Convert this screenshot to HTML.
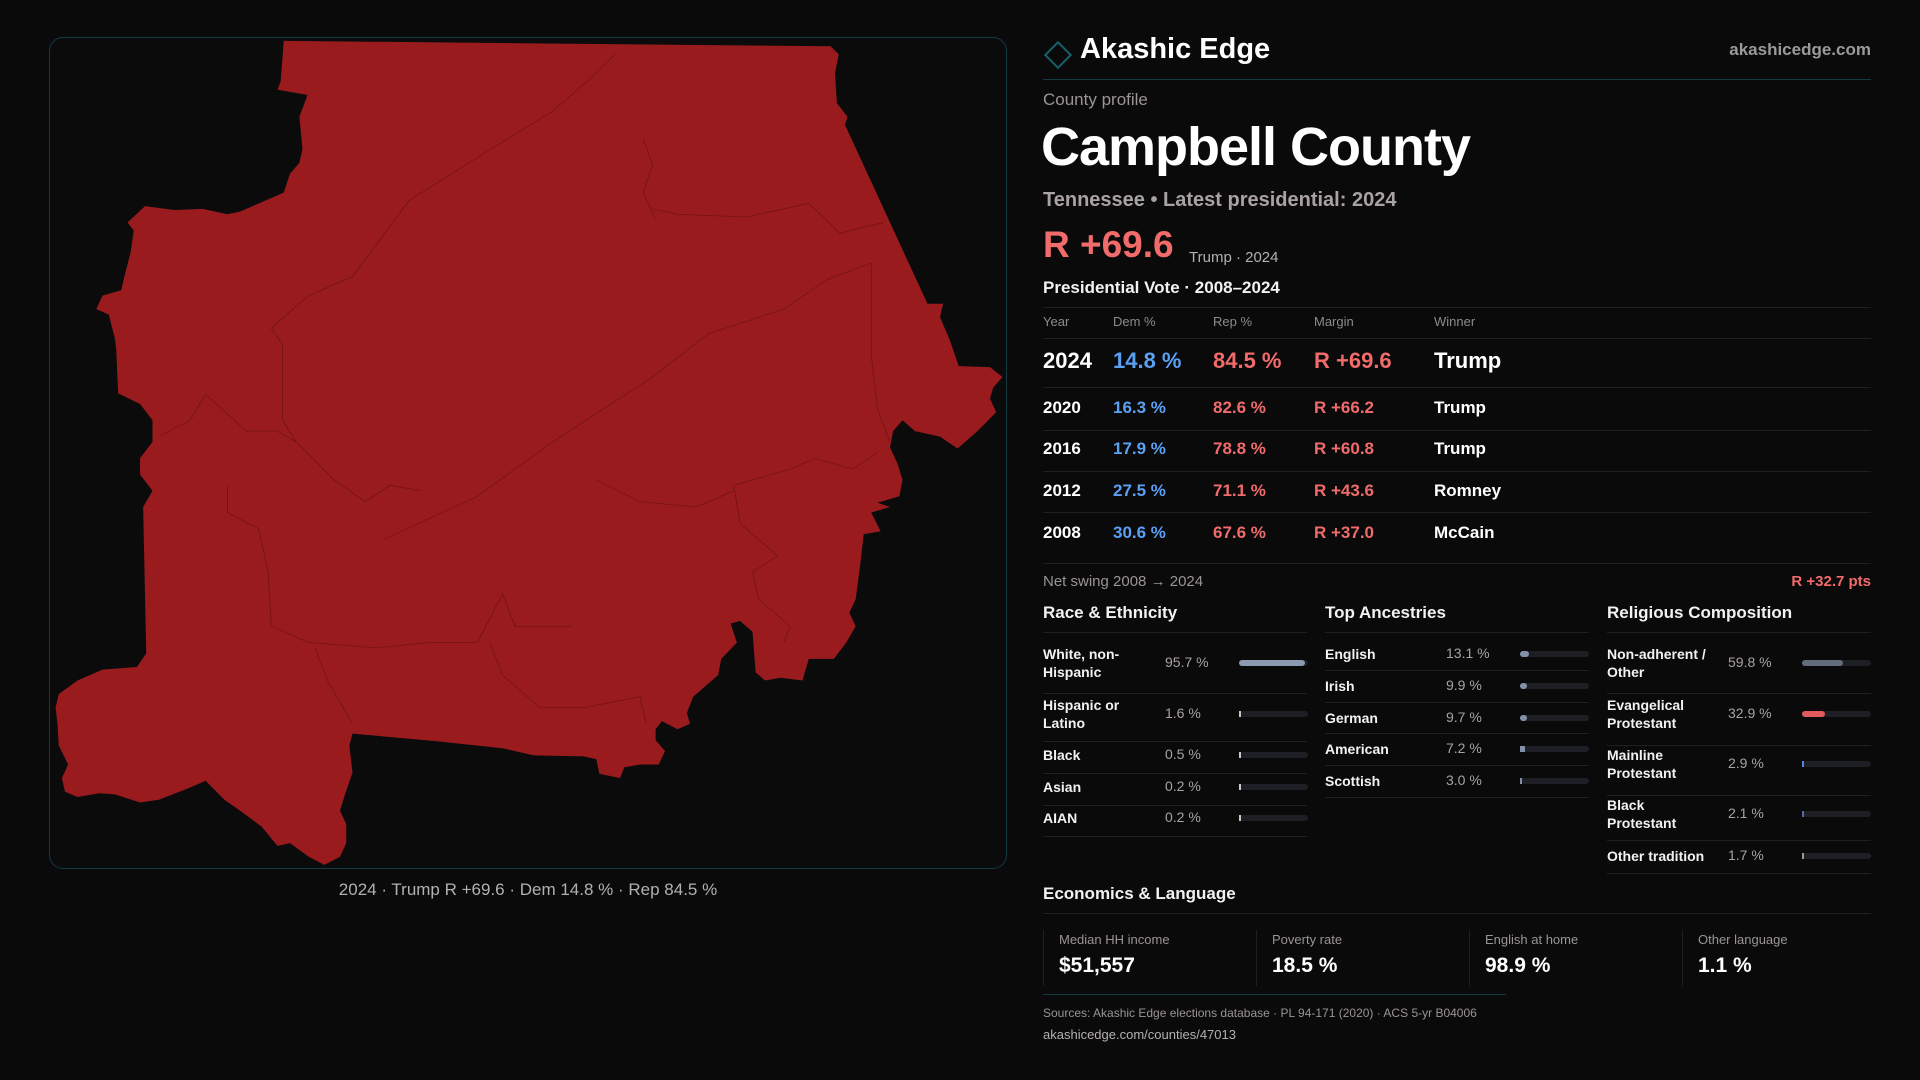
<!DOCTYPE html>
<html><head><meta charset="utf-8">
<style>
*{margin:0;padding:0;box-sizing:border-box}
body{width:1920px;height:1080px;background:#0a0a0b;font-family:"Liberation Sans",sans-serif;color:#f2f2f2;position:relative;overflow:hidden}
.a{position:absolute;white-space:nowrap}
.g{color:#9a9494}
.red{color:#f26b6b}.blue{color:#5aa0f5}
.hl{position:absolute;height:1px;background:#1e1f22}
.track{position:absolute;height:6px;border-radius:3px;background:#1d1f24}
.fill{position:absolute;left:0;top:0;height:6px;border-radius:3px}
</style></head><body>
<div class="a" style="left:49px;top:37px;width:958px;height:832px;border:1px solid #143a42;border-radius:14px;background:#0b0b0c"></div>
<svg style="position:absolute;left:40px;top:30px" width="980" height="850" viewBox="0 0 1568 1568" preserveAspectRatio="none">
<path fill="#991b1e" d="M390,20 L1265,30 L1278,45 L1272,80 L1275,135 L1292,160 L1288,175 L1350,330 L1420,505 L1445,505 L1440,530 L1455,570 L1470,620 L1520,622 L1540,640 L1525,660 L1520,680 L1530,705 L1500,740 L1468,772 L1440,750 L1400,740 L1380,720 L1365,740 L1360,770 L1372,800 L1380,830 L1375,860 L1340,872 L1360,880 L1330,890 L1345,925 L1318,930 L1312,990 L1305,1050 L1295,1075 L1305,1100 L1290,1130 L1270,1160 L1230,1160 L1220,1200 L1185,1195 L1160,1200 L1145,1185 L1140,1110 L1120,1090 L1105,1095 L1115,1130 L1090,1160 L1085,1190 L1045,1230 L1035,1260 L1040,1280 L1020,1290 L995,1275 L985,1290 L985,1310 L1000,1330 L990,1355 L960,1355 L935,1360 L928,1380 L895,1372 L890,1345 L870,1340 L790,1338 L740,1325 L635,1312 L500,1298 L495,1320 L500,1370 L488,1410 L480,1440 L490,1465 L490,1500 L480,1525 L455,1540 L430,1525 L400,1500 L380,1505 L355,1470 L320,1440 L295,1420 L265,1385 L235,1400 L190,1420 L160,1425 L120,1410 L95,1408 L60,1415 L40,1405 L35,1380 L45,1355 L30,1320 L28,1280 L25,1250 L30,1225 L60,1200 L100,1180 L155,1175 L170,1150 L165,880 L180,850 L160,820 L160,790 L180,760 L180,720 L160,690 L125,670 L122,590 L120,570 L110,525 L90,515 L100,490 L130,480 L135,455 L145,410 L150,370 L140,355 L168,325 L215,332 L260,330 L300,340 L320,335 L360,315 L390,300 L400,265 L415,245 L420,220 L415,160 L428,120 L380,110 L385,95 Z"/>
<g fill="none" stroke="#6e1215" stroke-width="1.5" opacity="0.8">
<path d="M370,550 L430,490 L500,455 L590,315 L700,235 L820,150 L880,90 L920,45"/>
<path d="M370,550 L388,580 L388,720 L410,760 L470,830 L520,870 L560,840 L610,850"/>
<path d="M190,750 L240,720 L265,672 L330,740 L380,740 L410,760"/>
<path d="M550,940 L700,860 L820,760 L980,640 L1070,560 L1190,515 L1260,460 L1330,430 L1330,600 L1340,700 L1360,760"/>
<path d="M980,330 L1020,340 L1130,345 L1230,320 L1280,375 L1350,355"/>
<path d="M965,200 L980,250 L965,300 L985,350"/>
<path d="M1110,840 L1200,810 L1240,790 L1300,810 L1340,780"/>
<path d="M1110,840 L1120,910 L1180,970 L1140,1000 L1150,1050 L1200,1100 L1190,1130"/>
<path d="M300,840 L300,890 L350,920 L365,1000 L370,1100 L430,1130 L540,1140 L620,1130 L700,1130 L740,1040 L760,1100 L850,1100"/>
<path d="M720,1130 L740,1190 L800,1250 L870,1250 L960,1230 L970,1280"/>
<path d="M440,1140 L460,1200 L500,1280"/>
<path d="M890,830 L960,870 L1050,880 L1110,850"/>
</g>
</svg>
<div class="a" style="left:0;width:1056px;text-align:center;top:880px;font-size:17px;color:#b5b0b0">2024 · Trump R +69.6 · Dem 14.8 % · Rep 84.5 %</div>

<div class="a" style="left:1048px;top:45px;width:20px;height:20px;border:2px solid #15606a;transform:rotate(45deg)"></div>
<div class="a" style="left:1080px;top:33px;font-size:29px;font-weight:bold;color:#fff">Akashic Edge</div>
<div class="a" style="right:49px;top:40px;font-size:17px;font-weight:bold;color:#9a9a9a">akashicedge.com</div>
<div class="hl" style="left:1043px;width:828px;top:79px;background:#123c42"></div>
<div class="a g" style="left:1043px;top:90px;font-size:17px">County profile</div>
<div class="a" style="left:1041px;top:116px;font-size:54px;font-weight:bold;color:#fff;letter-spacing:-1px">Campbell County</div>
<div class="a" style="left:1043px;top:189px;font-size:20px;font-weight:bold;color:#a9a2a2">Tennessee • Latest presidential: 2024</div>
<div class="a red" style="left:1043px;top:224px;font-size:37px;font-weight:bold">R +69.6</div>
<div class="a" style="left:1189px;top:249px;font-size:15px;color:#b5b0b0">Trump · 2024</div>
<div class="a" style="left:1043px;top:278px;font-size:17px;font-weight:bold">Presidential Vote · 2008–2024</div>
<div class="hl" style="left:1043px;width:828px;top:307px"></div>
<div id="vtable"></div>
<div class="hl" style="left:1043px;width:828px;top:563px"></div>
<div class="a g" style="left:1043px;top:573px;font-size:15px">Net swing 2008 → 2024</div>
<div class="a red" style="right:49px;top:573px;font-size:15px;font-weight:bold">R +32.7 pts</div>
<div id="sections"></div>

<div class="a" style="left:1043px;top:884px;font-size:17px;font-weight:bold">Economics &amp; Language</div>
<div class="hl" style="left:1043px;width:828px;top:913px"></div>
<div id="stats"></div>
<div class="hl" style="left:1043px;width:463px;top:994px;background:#123c42"></div>
<div class="a g" style="left:1043px;top:1006px;font-size:12px">Sources: Akashic Edge elections database · PL 94-171 (2020) · ACS 5-yr B04006</div>
<div class="a" style="left:1043px;top:1027px;font-size:13px;color:#b5b0b0">akashicedge.com/counties/47013</div>

<script>
const years=["2024","2020","2016","2012","2008"];
const demPct=[14.8,16.3,17.9,27.5,30.6];
const repPct=[84.5,82.6,78.8,71.1,67.6];
const margins=[69.6,66.2,60.8,43.6,37.0];
const winners=["Trump","Trump","Trump","Romney","McCain"];
const raceLabels=["White, non-<br>Hispanic","Hispanic or<br>Latino","Black","Asian","AIAN"];
const raceValues=[95.7,1.6,0.5,0.2,0.2];
const ancLabels=["English","Irish","German","American","Scottish"];
const ancValues=[13.1,9.9,9.7,7.2,3.0];
const relLabels=["Non-adherent /<br>Other","Evangelical<br>Protestant","Mainline<br>Protestant","Black<br>Protestant","Other tradition"];
const relValues=[59.8,32.9,2.9,2.1,1.7];
const statLabels=["Median HH income","Poverty rate","English at home","Other language"];
const statValues=["$51,557","18.5 %","98.9 %","1.1 %"];

function mk(parent,html,style){const d=document.createElement('div');d.className='a';d.innerHTML=html;d.style.cssText=style;parent.appendChild(d);return d;}
const vt=document.getElementById('vtable');
const cols=[1043,1113,1213,1314,1434];
const heads=["Year","Dem %","Rep %","Margin","Winner"];
heads.forEach((h,i)=>{const e=mk(vt,h,`left:${cols[i]}px;top:314px;font-size:13px;color:#8f8a8a`);

});
mk(vt,'','left:1043px;width:828px;top:338px;height:1px;background:#1e1f22');
const rowY=[361,408,449,491,533];
const lineY=[387,430,471,512,553];
years.forEach((y,i)=>{
 const fs=i===0?22:17;const top=rowY[i]-fs*0.6;
 const cells=[[y,'#fff'],[demPct[i].toFixed(1)+' %','#5aa0f5'],[repPct[i].toFixed(1)+' %','#f26b6b'],['R +'+margins[i].toFixed(1),'#f26b6b'],[winners[i],'#fff']];
 cells.forEach((c,j)=>{const e=mk(vt,c[0],`left:${cols[j]}px;top:${top}px;font-size:${fs}px;font-weight:bold;color:${c[1]}`);
 
 });
 if(i<4){mk(vt,'',`left:1043px;width:828px;top:${lineY[i]}px;height:1px;background:#1e1f22`);}
});
const sec=document.getElementById('sections');
function section(x,title,labels,values,centers,lines,valX,barX,color,name){
 const t=mk(sec,title,`left:${x}px;top:603px;font-size:17px;font-weight:bold`);
 
 
 mk(sec,'',`left:${x}px;width:264px;top:632px;height:1px;background:#1e1f22`);
 labels.forEach((lb,i)=>{
  const two=lb.indexOf('<br>')>=0;
  const l=mk(sec,lb,`left:${x}px;top:${centers[i]-(two?18:9)}px;font-size:14px;font-weight:bold;line-height:18px;white-space:nowrap`);
  
  
  const v=mk(sec,values[i].toFixed(1)+' %',`left:${valX}px;top:${centers[i]-9}px;font-size:14px;color:#a9a2a2`);
  
  
  const tr=document.createElement('div');tr.className='track';tr.style.cssText=`left:${barX}px;top:${centers[i]-3}px;width:69px`;
  
  
  const f=document.createElement('div');f.className='fill';
  const w=Math.max(1.5,69*values[i]/100);
  f.style.cssText=`width:${w}px;background:${typeof color==='function'?color(i):color}`;
  if(w<6)f.style.borderRadius='0';
  tr.appendChild(f);sec.appendChild(tr);
  mk(sec,'',`left:${x}px;width:264px;top:${lines[i]}px;height:1px;background:#1e1f22`);
 });
}
section(1043,'Race &amp; Ethnicity',raceLabels,raceValues,[663,714,755,787,818],[693,741,773,805,836],1165,1239,i=>i===0?'#8c9ab0':'#c9c9c9','race');
section(1325,'Top Ancestries',ancLabels,ancValues,[654,686,718,749,781],[670,702,733,765,797],1446,1520,'#8391a8','ancestry');
section(1607,'Religious Composition',relLabels,relValues,[663,714,764,814,856],[693,745,795,840,873],1728,1802,i=>['#646c7c','#e05a5e','#4f86e0','#5a66b0','#9a9a9a'][i],'religion');
const st=document.getElementById('stats');
statLabels.forEach((s,i)=>{
 const x=1043+i*213;
 mk(st,'',`left:${x}px;top:930px;width:1px;height:56px;background:#1e1f22`);
 const l=mk(st,s,`left:${x+16}px;top:932px;font-size:13px;color:#9a9494`);
 
 
 const v=mk(st,statValues[i],`left:${x+16}px;top:954px;font-size:21px;font-weight:bold;color:#fff`);
 
 
});
</script>
</body></html>
